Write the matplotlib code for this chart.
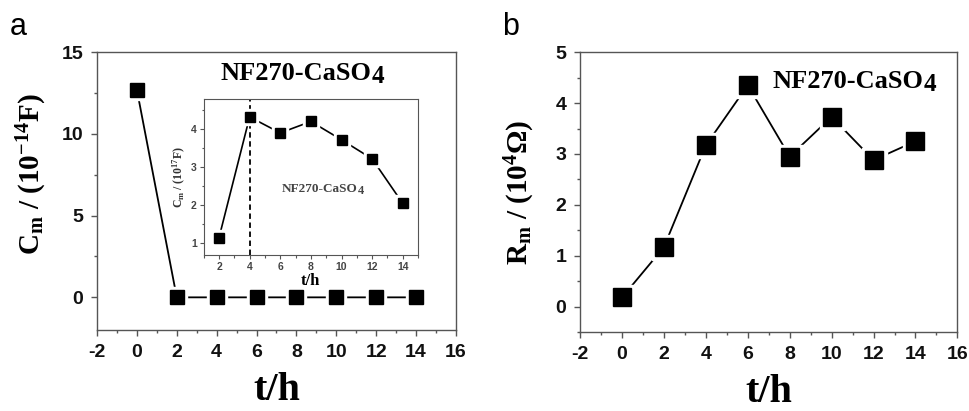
import matplotlib
matplotlib.use("Agg")
import matplotlib.pyplot as plt
from matplotlib.ticker import MultipleLocator

# panel a: membrane capacitance
t_a = [0, 2, 4, 6, 8, 10, 12, 14]
cm_a = [12.7, 0, 0, 0, 0, 0, 0, 0]

# inset of panel a (zoomed scale)
t_in = [2, 4, 6, 8, 10, 12, 14]
cm_in = [1.15, 4.32, 3.9, 4.2, 3.72, 3.22, 2.05]
t_mark = 4

# panel b: membrane resistance
t_b = [0, 2, 4, 6, 8, 10, 12, 14]
rm_b = [0.18, 1.17, 3.17, 4.35, 2.95, 3.73, 2.88, 3.25]

label_main = "NF270-CaSO"
label_sub = "4"

plt.rcParams['font.family'] = ['Liberation Sans', 'DejaVu Sans']
plt.rcParams['axes.unicode_minus'] = False
plt.rcParams['mathtext.fontset'] = 'custom'
plt.rcParams['mathtext.rm'] = 'Liberation Serif:bold'
plt.rcParams['mathtext.it'] = 'Liberation Serif:bold'
plt.rcParams['mathtext.bf'] = 'Liberation Serif:bold'

SERIF = ['Liberation Serif', 'DejaVu Serif']
SPINE = '#555555'


def style_axes(ax, size, major, minor, ylo, yhi):
    ax.set_xlim(-2, 16)
    ax.set_ylim(ylo, yhi)
    ax.xaxis.set_major_locator(MultipleLocator(2))
    ax.xaxis.set_minor_locator(MultipleLocator(1))
    ax.yaxis.set_major_locator(MultipleLocator(major))
    ax.yaxis.set_minor_locator(MultipleLocator(minor))
    ax.tick_params(which='both', direction='out', top=False, right=False,
                   color=SPINE, width=1)
    ax.tick_params(which='major', length=4, labelsize=size, pad=6,
                   labelcolor='#111111')
    ax.tick_params(which='minor', length=2.5)
    for lab in ax.get_xticklabels() + ax.get_yticklabels():
        lab.set_fontweight('bold')
    for s in ax.spines.values():
        s.set_color(SPINE)
        s.set_linewidth(1)


def draw_series(ax, x, y, ms, lw):
    ax.plot(x, y, color='black', lw=lw, zorder=2)
    ax.plot(x, y, ls='none', marker='s', ms=ms + 5, color='white', zorder=3)
    ax.plot(x, y, ls='none', marker='s', ms=ms, color='black', zorder=4)


def sample_label(ax, x, y, size, color='black', coords=None):
    tr = ax.transAxes if coords is None else coords
    t = ax.text(x, y, label_main, transform=tr, family=SERIF, weight='bold',
                fontsize=size, color=color, ha='center', va='center')
    ax.annotate(label_sub, xy=(1, 0), xycoords=t, xytext=(0, -size * 0.12),
                textcoords='offset points', family=SERIF, weight='bold',
                fontsize=size * 0.95, color=color, ha='left', va='bottom')
    return t


fig = plt.figure(figsize=(9.7, 4.11), dpi=100)

# ---- panel a
ax1 = fig.add_axes([0.100, 0.197, 0.370, 0.676])
style_axes(ax1, 14, 5, 2.5, -2, 15)
draw_series(ax1, t_a, cm_a, 10, 1.3)
ax1.set_xlabel("t/h", family=SERIF, weight='bold', fontsize=29, labelpad=8)
ax1.set_ylabel(r"C$_\mathrm{m}$ / (10$^{-14}$F)", family=SERIF,
               weight='bold', fontsize=21, labelpad=6)
ax1.yaxis.set_label_coords(-0.133, 0.56)
sample_label(ax1, 0.555, 0.925, 19)
fig.text(0.010, 0.935, "a", fontsize=22, ha='left', va='center')

# inset
axi = fig.add_axes([0.210, 0.380, 0.221, 0.380])
axi.set_xlim(1, 15)
axi.set_ylim(0.7, 4.8)
axi.xaxis.set_major_locator(MultipleLocator(2))
axi.xaxis.set_minor_locator(MultipleLocator(1))
axi.yaxis.set_major_locator(MultipleLocator(1))
axi.yaxis.set_minor_locator(MultipleLocator(0.5))
axi.tick_params(which='both', direction='out', top=False, right=False,
                color=SPINE, width=0.8, labelcolor='#444444')
axi.tick_params(which='major', length=3, labelsize=7.5, pad=2)
axi.tick_params(which='minor', length=1.8)
for lab in axi.get_xticklabels() + axi.get_yticklabels():
    lab.set_fontweight('bold')
for s in axi.spines.values():
    s.set_color(SPINE)
    s.set_linewidth(0.8)
axi.axvline(t_mark, color='black', lw=1.3, ls=(0, (3, 2)), zorder=1)
draw_series(axi, t_in, cm_in, 6.5, 1.2)
axi.set_xlabel("t/h", family=SERIF, weight='bold', fontsize=12, labelpad=1)
axi.set_ylabel(r"C$_\mathrm{m}$ / (10$^{17}$F)", family=SERIF,
               weight='bold', fontsize=8.5, labelpad=2, color='#333333')
sample_label(axi, 8.6, 2.42, 9.5, color='#444444', coords=axi.transData)

# ---- panel b
ax2 = fig.add_axes([0.598, 0.192, 0.389, 0.681])
style_axes(ax2, 14, 1, 0.5, -0.5, 5)
draw_series(ax2, t_b, rm_b, 13, 1.3)
ax2.set_xlabel("t/h", family=SERIF, weight='bold', fontsize=29, labelpad=8)
ax2.set_ylabel(r"R$_\mathrm{m}$ / (10$^{4}\Omega$)", family=SERIF,
               weight='bold', fontsize=21, labelpad=6)
ax2.yaxis.set_label_coords(-0.115, 0.5)
sample_label(ax2, 0.71, 0.895, 19)
fig.text(0.518, 0.935, "b", fontsize=22, ha='left', va='center')

fig.savefig("out.png", dpi=100)
